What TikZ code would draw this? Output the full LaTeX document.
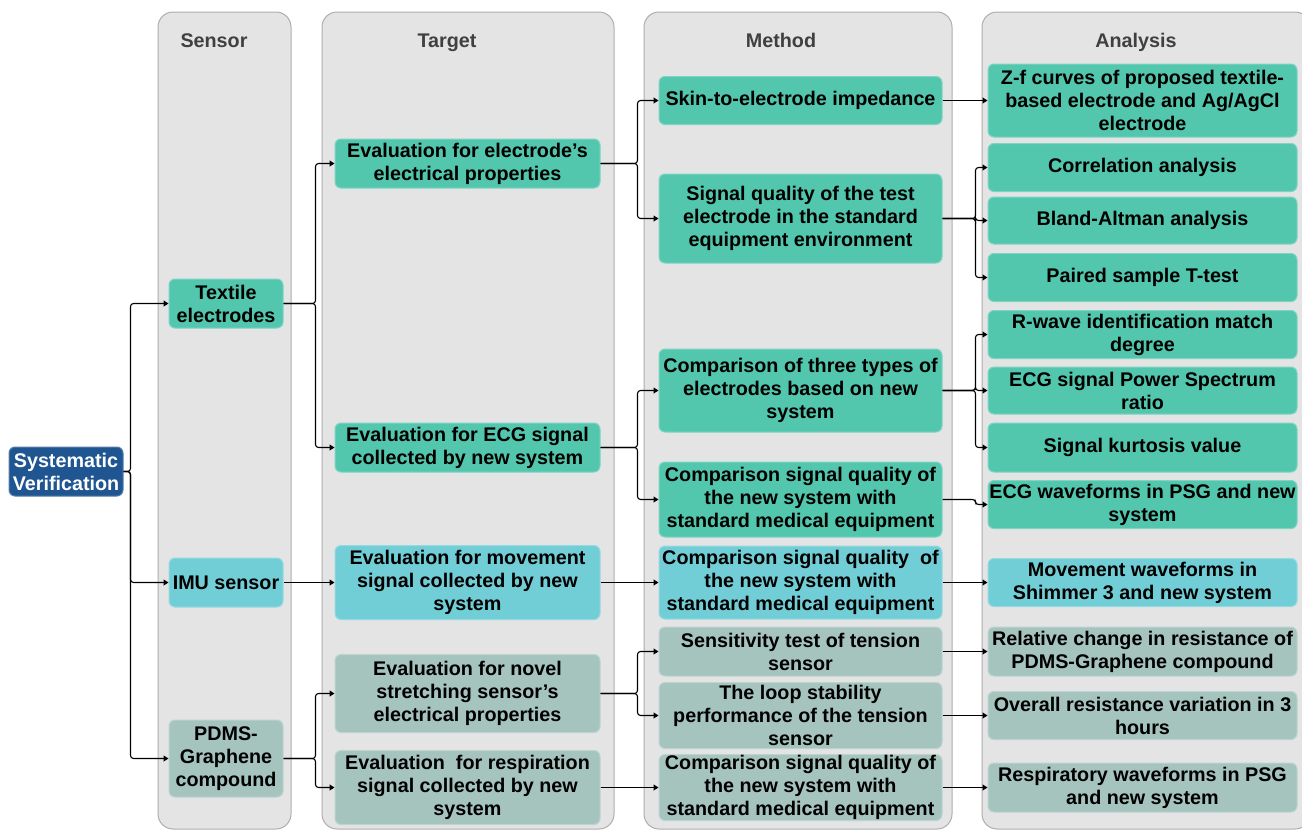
\documentclass[tikz,border=0pt]{standalone}
\usepackage{fontspec}
\setmainfont{Liberation Sans}
\usetikzlibrary{arrows.meta}
\definecolor{cteal}{HTML}{52C7AE}
\definecolor{ccyan}{HTML}{72CED6}
\definecolor{cgray}{HTML}{A6C4BE}
\definecolor{cblue}{HTML}{1F5590}
\definecolor{colbg}{HTML}{E4E4E4}
\definecolor{colline}{HTML}{AEAEAE}
\definecolor{headtxt}{HTML}{404040}
\tikzset{
  colbox/.style={fill=colbg, draw=colline, line width=1pt, rounded corners=15pt},
  head/.style={anchor=base, font=\fontsize{19.75}{23}\selectfont\bfseries, text=headtxt},
  box/.style={rounded corners=6pt, fill=#1, draw=#1!75!white, line width=1pt, inner sep=0pt,
    align=center, font=\fontsize{19.75}{23}\selectfont\bfseries, text=black},
  sbox/.style={box=#1, minimum width=114pt},
  tbox/.style={box=#1, minimum width=265pt},
  mbox/.style={box=#1, minimum width=283pt},
  abox/.style={box=#1, minimum width=309pt},
  arr/.style={line width=1.1pt, rounded corners=3pt, -{Triangle[length=5pt,width=6pt]}},
}
\begin{document}
\begin{tikzpicture}[x=1pt,y=-1pt]
\useasboundingbox (0,0) rectangle (1302,830);
% columns
\draw[colbox] (158,12) rectangle (291,829);
\draw[colbox] (322,12) rectangle (614,829);
\draw[colbox] (644,12) rectangle (952,829);
\draw[colbox] (982,12) rectangle (1310,829);
\node[head] (hs) at (214,47) {Sensor};
\node[head] (ht) at (447,47) {Target};
\node[head] (hm) at (781,47) {Method};
\node[head] (ha) at (1136,47) {Analysis};
% root
\node[box=cblue, minimum width=114pt, minimum height=49pt, text=white] (sv) at (66,471.5) {Systematic\\Verification};
% sensor
\node[sbox=cteal, minimum height=49pt] (s1) at (226,303.5) {Textile\\electrodes};
\node[sbox=ccyan, minimum height=49pt] (s2) at (226,582.5) {IMU sensor};
\node[sbox=cgray, minimum height=77pt] (s3) at (226,758.5) {PDMS-\\Graphene\\compound};
% target
\node[tbox=cteal, minimum height=49pt] (t1) at (467.5,163.5) {Evaluation for electrode’s\\electrical properties};
\node[tbox=cteal, minimum height=49pt] (t2) at (467.5,447.5) {Evaluation for ECG signal\\collected by new system};
\node[tbox=ccyan, minimum height=74pt] (t3) at (467.5,582.5) {Evaluation for movement\\signal collected by new\\system};
\node[tbox=cgray, minimum height=78pt] (t4) at (467.5,693.5) {Evaluation for novel\\stretching sensor’s\\electrical properties};
\node[tbox=cgray, minimum height=74pt] (t5) at (467.5,787.5) {Evaluation\ \ for respiration\\signal collected by new\\system};
% method
\node[mbox=cteal, minimum height=48pt] (m1) at (800.5,100.5) {Skin-to-electrode impedance};
\node[mbox=cteal, minimum height=89pt] (m2) at (800.5,218.5) {Signal quality of the test\\electrode in the standard\\equipment environment};
\node[mbox=cteal, minimum height=83pt] (m3) at (800.5,390.5) {Comparison of three types of\\electrodes based on new\\system};
\node[mbox=cteal, minimum height=75pt] (m4) at (800.5,499.5) {Comparison signal quality of\\the new system with\\standard medical equipment};
\node[mbox=ccyan, minimum height=73pt] (m5) at (800.5,582.5) {Comparison signal quality\ \ of\\the new system with\\standard medical equipment};
\node[mbox=cgray, minimum height=49pt] (m6) at (800.5,651.5) {Sensitivity test of tension\\sensor};
\node[mbox=cgray, minimum height=66pt] (m7) at (800.5,715.5) {The loop stability\\performance of the tension\\sensor};
\node[mbox=cgray, minimum height=66pt] (m8) at (800.5,787.5) {Comparison signal quality of\\the new system with\\standard medical equipment};
% analysis
\node[abox=cteal, minimum height=73pt] (a1) at (1142.5,100.5) {Z-f curves of proposed textile-\\based electrode and Ag/AgCl\\electrode};
\node[abox=cteal, minimum height=48pt] (a2) at (1142.5,167.5) {Correlation analysis};
\node[abox=cteal, minimum height=47pt] (a3) at (1142.5,220.5) {Bland-Altman analysis};
\node[abox=cteal, minimum height=48pt] (a4) at (1142.5,277.5) {Paired sample T-test};
\node[abox=cteal, minimum height=48pt] (a5) at (1142.5,334.5) {R-wave identification match\\degree};
\node[abox=cteal, minimum height=47pt] (a6) at (1142.5,390.5) {ECG signal Power Spectrum\\ratio};
\node[abox=cteal, minimum height=49pt] (a7) at (1142.5,447.5) {Signal kurtosis value};
\node[abox=cteal, minimum height=48pt] (a8) at (1142.5,504.5) {ECG waveforms in PSG and new\\system};
\node[abox=ccyan, minimum height=48pt] (a9) at (1142.5,582.5) {Movement waveforms in\\Shimmer 3 and new system};
\node[abox=cgray, minimum height=49pt] (a10) at (1142.5,651.5) {Relative change in resistance of\\PDMS-Graphene compound};
\node[abox=cgray, minimum height=48pt] (a11) at (1142.5,715.5) {Overall resistance variation in 3\\hours};
\node[abox=cgray, minimum height=49pt] (a12) at (1142.5,787.5) {Respiratory waveforms in PSG\\and new system};
% connectors: root -> sensors
\draw[arr] (sv.east) -- ++(7,0) |- (s1.west);
\draw[arr] (sv.east) -- ++(7,0) |- (s2.west);
\draw[arr] (sv.east) -- ++(7,0) |- (s3.west);
% sensors -> targets
\draw[arr] (s1.east) -- ++(32,0) |- (t1.west);
\draw[arr] (s1.east) -- ++(32,0) |- (t2.west);
\draw[arr] (s2.east) -- (s2.east -| t3.west);
\draw[arr] (s3.east) -- ++(32,0) |- (t4.west);
\draw[arr] (s3.east) -- ++(32,0) |- (t5.west);
% targets -> methods
\draw[arr] (t1.east) -- ++(37,0) |- (m1.west);
\draw[arr] (t1.east) -- ++(37,0) |- (m2.west);
\draw[arr] (t2.east) -- ++(37,0) |- (m3.west);
\draw[arr] (t2.east) -- ++(37,0) |- (m4.west);
\draw[arr] (t3.east) -- (t3.east -| m5.west);
\draw[arr] (t4.east) -- ++(37,0) |- (m6.west);
\draw[arr] (t4.east) -- ++(37,0) |- (m7.west);
\draw[arr] (t5.east) -- (t5.east -| m8.west);
% methods -> analysis
\draw[arr] (m1.east) -- (m1.east -| a1.west);
\draw[arr] (m2.east) -- ++(33,0) |- (a2.west);
\draw[arr] (m2.east) -- ++(33,0) |- (a3.west);
\draw[arr] (m2.east) -- ++(33,0) |- (a4.west);
\draw[arr] (m3.east) -- ++(33,0) |- (a5.west);
\draw[arr] (m3.east) -- ++(33,0) |- (a6.west);
\draw[arr] (m3.east) -- ++(33,0) |- (a7.west);
\draw[arr] (m4.east) -- ++(33,0) |- (a8.west);
\draw[arr] (m5.east) -- (m5.east -| a9.west);
\draw[arr] (m6.east) -- (m6.east -| a10.west);
\draw[arr] (m7.east) -- (m7.east -| a11.west);
\draw[arr] (m8.east) -- (m8.east -| a12.west);
\end{tikzpicture}
\end{document}
